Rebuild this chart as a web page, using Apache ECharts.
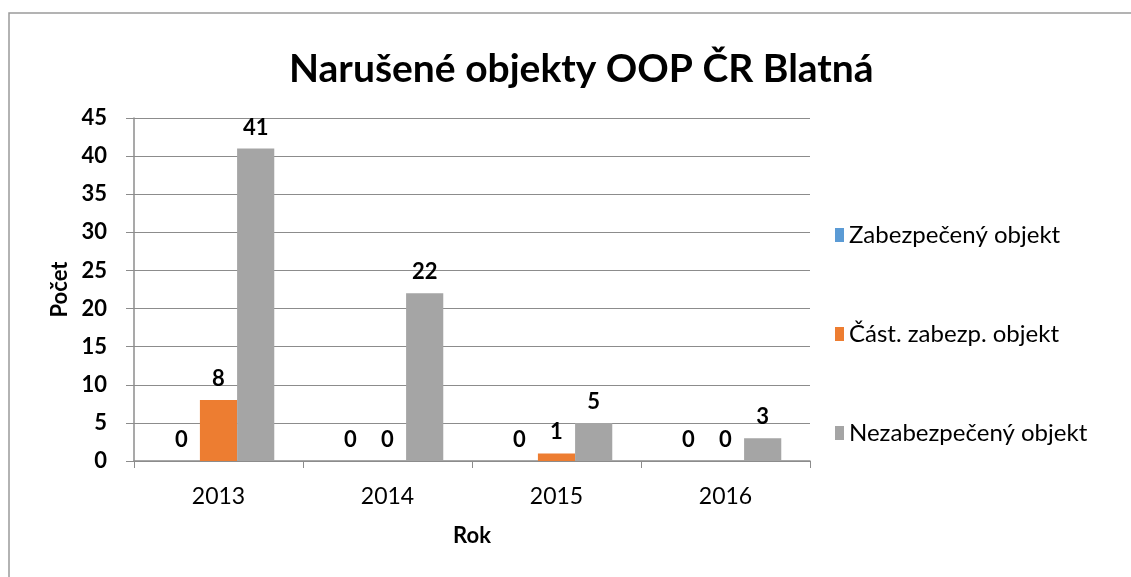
<!DOCTYPE html>
<html>
<head>
<meta charset="utf-8">
<script src="https://cdn.jsdelivr.net/npm/echarts@6/dist/echarts.min.js"></script>
<style>
  html, body { margin: 0; padding: 0; background: #fff; }
  #chart { width: 1131px; height: 577px; }
</style>
</head>
<body>
<div id="chart"></div>
<script>
const years = ['2013', '2014', '2015', '2016'];
const zabezpeceny = [0, 0, 0, 0];
const castZabezp = [8, 0, 1, 0];
const nezabezpeceny = [41, 22, 5, 3];
const yTicks = { min: 0, max: 45, interval: 5 };

const font = 'Lato, "Noto Sans", sans-serif';

function barSeries(name, data, color) {
  return {
    name: name,
    type: 'bar',
    data: data,
    barGap: '0%',
    barCategoryGap: '34%',
    itemStyle: { color: color },
    label: {
      show: true,
      position: 'top',
      distance: 10,
      color: '#000',
      fontFamily: font,
      fontWeight: 'bold',
      fontSize: 22
    }
  };
}

const chart = echarts.init(document.getElementById('chart'));
chart.setOption({
  animation: false,
  backgroundColor: '#fff',
  textStyle: { fontFamily: font },
  graphic: [{
    type: 'rect',
    shape: { x: 9, y: 13, width: 1300, height: 700 },
    style: { fill: 'none', stroke: '#9a9a9a', lineWidth: 1.5 },
    silent: true
  }],
  title: {
    text: 'Narušené objekty OOP ČR Blatná',
    left: 284,
    top: 45,
    textStyle: { fontFamily: font, fontWeight: 'bold', fontSize: 39, color: '#000' }
  },
  legend: {
    orient: 'vertical',
    left: 830,
    top: 218,
    itemWidth: 9,
    itemHeight: 14,
    itemGap: 75,
    icon: 'rect',
    textStyle: { fontFamily: font, fontSize: 24, color: '#000' },
    data: ['Zabezpečený objekt', 'Část. zabezp. objekt', 'Nezabezpečený objekt']
  },
  grid: { left: 134, right: 321, top: 118, bottom: 116 },
  xAxis: {
    type: 'category',
    data: years,
    name: 'Rok',
    nameLocation: 'middle',
    nameGap: 64,
    nameTextStyle: { fontFamily: font, fontWeight: 'bold', fontSize: 22, color: '#000' },
    axisLine: { lineStyle: { color: '#8c8c8c', width: 1.5 } },
    axisTick: { show: true, length: 7, lineStyle: { color: '#8c8c8c' } },
    axisLabel: { margin: 24, fontFamily: font, fontSize: 23, color: '#000' }
  },
  yAxis: {
    type: 'value',
    min: yTicks.min,
    max: yTicks.max,
    interval: yTicks.interval,
    name: 'Počet',
    nameLocation: 'middle',
    nameGap: 62,
    nameRotate: 90,
    nameTextStyle: { fontFamily: font, fontWeight: 'bold', fontSize: 22, color: '#000' },
    axisLine: { show: true, lineStyle: { color: '#8c8c8c', width: 1.5 } },
    axisTick: { show: true, length: 8, lineStyle: { color: '#8c8c8c' } },
    axisLabel: { margin: 27, fontFamily: font, fontWeight: 'bold', fontSize: 22, color: '#000' },
    splitLine: { lineStyle: { color: '#8c8c8c', width: 1 } }
  },
  series: [
    barSeries('Zabezpečený objekt', zabezpeceny, '#5B9BD5'),
    barSeries('Část. zabezp. objekt', castZabezp, '#ED7D31'),
    barSeries('Nezabezpečený objekt', nezabezpeceny, '#A5A5A5')
  ]
});
</script>
</body>
</html>
